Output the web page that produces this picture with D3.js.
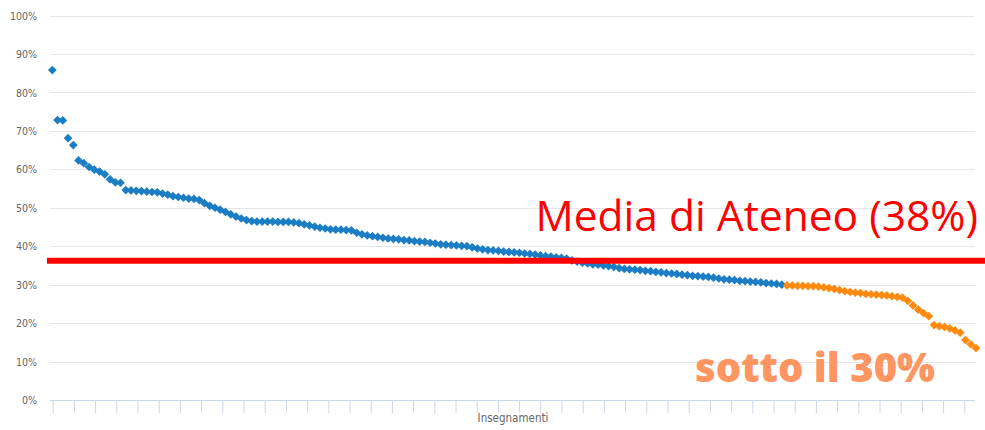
<!DOCTYPE html>
<html>
<head>
<meta charset="utf-8">
<script src="https://cdn.jsdelivr.net/npm/d3@7"></script>
<style>
  body { margin: 0; background: #fff; }
  svg { display: block; }
</style>
</head>
<body>
<div id="chart"></div>
<script>
var svgWidth = 985;
var svgHeight = 430;

// share of each course (%), sorted from highest to lowest
var shares = [
  85.8, 72.8, 72.7, 68.1, 66.3,
  62.3, 61.6, 60.6, 59.9, 59.4, 58.7, 57.4, 56.6, 56.5, 54.6, 54.5,
  54.4, 54.3, 54.2, 54.1, 54.0,
  53.7, 53.4, 53.0, 52.8, 52.6, 52.4, 52.3, 52.0,
  51.2, 50.5, 50.0, 49.5, 48.9, 48.3, 47.7, 47.2, 46.8,
  46.5, 46.4, 46.4, 46.4, 46.4, 46.3, 46.3, 46.3, 46.2,
  46.0, 45.7, 45.4, 45.1, 44.8, 44.6,
  44.4, 44.3, 44.3, 44.2, 44.1,
  43.5, 43.1, 42.8, 42.6, 42.4, 42.2,
  42.0, 41.9, 41.8, 41.6, 41.5, 41.3, 41.2, 41.1, 40.9,
  40.7, 40.5, 40.4, 40.3, 40.2, 40.1, 40.0, 39.7, 39.4, 39.2,
  39.0, 38.9, 38.8, 38.6, 38.5, 38.4, 38.3, 38.1, 38.0, 37.8,
  37.6, 37.4, 37.3, 37.1, 37.0, 36.8,
  36.3, 36.0, 35.7, 35.5, 35.3, 35.2,
  35.0, 34.8, 34.6, 34.3, 34.1, 34.0, 33.9, 33.8,
  33.6, 33.5, 33.3, 33.2, 33.0, 32.9, 32.8, 32.6, 32.5, 32.3, 32.2, 32.1, 32.0,
  31.8, 31.6, 31.4, 31.3, 31.2, 31.0, 30.9, 30.8, 30.7, 30.6, 30.4, 30.3, 30.2, 30.0,
  29.8, 29.8, 29.7, 29.7, 29.6, 29.6, 29.5,
  29.3, 29.1, 28.9, 28.6, 28.3, 28.1, 27.9,
  27.8, 27.6, 27.5, 27.4, 27.3, 27.2, 27.0, 26.8,
  26.6, 25.8, 24.6, 23.5, 22.6, 21.8, 19.5, 19.2, 19.0, 18.6, 18.1, 17.5, 15.6, 14.5, 13.5
];

var yTicks = [0, 10, 20, 30, 40, 50, 60, 70, 80, 90, 100];
var threshold = 30;      // below this the points are orange
var mediaLine = 36.2;    // where the red line is drawn
var mediaLabel = "Media di Ateneo (38%)";
var belowLabel = "sotto il 30%";
var xTitle = "Insegnamenti";
var xTickCount = 44;

var margin = { top: 15.5, right: 10, bottom: 30, left: 50 };
var plotRight = 975;
var plotBottom = 400;

var svg = d3.select("#chart")
  .append("svg")
  .attr("width", svgWidth)
  .attr("height", svgHeight);

var x = d3.scaleLinear()
  .domain([0, shares.length - 1])
  .range([52.3, 976]);

var y = d3.scaleLinear()
  .domain([0, 100])
  .range([plotBottom, margin.top]);

// gridlines
svg.append("g")
  .selectAll("line")
  .data(yTicks.filter(d => d > 0))
  .enter()
  .append("line")
  .attr("x1", margin.left)
  .attr("x2", plotRight)
  .attr("y1", d => Math.round(y(d)) + 0.5)
  .attr("y2", d => Math.round(y(d)) + 0.5)
  .attr("stroke", "#e6e6e6")
  .attr("stroke-width", 1);

// y labels
var leftAxis = d3.axisLeft(y)
  .tickValues(yTicks)
  .tickSize(0)
  .tickPadding(0)
  .tickFormat(d => d + "%");

var yAxis = svg.append("g")
  .attr("transform", "translate(37,0)")
  .call(leftAxis);
yAxis.select(".domain").remove();
yAxis.selectAll("text")
  .attr("fill", "#666")
  .attr("font-family", "DejaVu Sans Condensed, DejaVu Sans")
  .attr("font-size", 10.5)
  .attr("dy", "0.35em");

// x axis: ticks only, no labels
var xTickScale = d3.scaleLinear()
  .domain([0, xTickCount - 1])
  .range([52.7, 964.3]);

var bottomAxis = d3.axisBottom(xTickScale)
  .tickValues(d3.range(xTickCount))
  .tickSize(13)
  .tickSizeOuter(0)
  .tickFormat("");

var xAxis = svg.append("g")
  .attr("transform", `translate(0, ${plotBottom})`)
  .call(bottomAxis);
xAxis.select(".domain")
  .attr("d", `M${margin.left},0.5H${plotRight}`)
  .attr("stroke", "#ccd6eb");
xAxis.selectAll(".tick line")
  .attr("stroke", "#ccd6eb");

svg.append("text")
  .attr("x", 513)
  .attr("y", 422)
  .attr("text-anchor", "middle")
  .attr("fill", "#666")
  .attr("font-family", "DejaVu Sans Condensed, DejaVu Sans")
  .attr("font-size", 11.5)
  .text(xTitle);

// points
var diamond = d3.symbol().type(d3.symbolSquare).size(38);

svg.append("g")
  .selectAll("path")
  .data(shares)
  .enter()
  .append("path")
  .attr("d", diamond)
  .attr("transform", (d, i) => `translate(${x(i)},${y(d)}) rotate(45)`)
  .attr("fill", d => d < threshold ? "#ff8a0f" : "#1b7dc4");

// red average line
svg.append("line")
  .attr("x1", 47)
  .attr("x2", svgWidth)
  .attr("y1", y(mediaLine))
  .attr("y2", y(mediaLine))
  .attr("stroke", "#ff0000")
  .attr("stroke-width", 6);

svg.append("text")
  .attr("x", 978)
  .attr("y", 231)
  .attr("text-anchor", "end")
  .attr("fill", "#ff0000")
  .attr("font-family", "Open Sans")
  .attr("font-size", 42.5)
  .text(mediaLabel);

svg.append("text")
  .attr("x", 935)
  .attr("y", 382)
  .attr("text-anchor", "end")
  .attr("fill", "#ff9560")
  .attr("font-family", "Open Sans")
  .attr("font-weight", 800)
  .attr("font-size", 40)
  .text(belowLabel);
</script>
</body>
</html>
